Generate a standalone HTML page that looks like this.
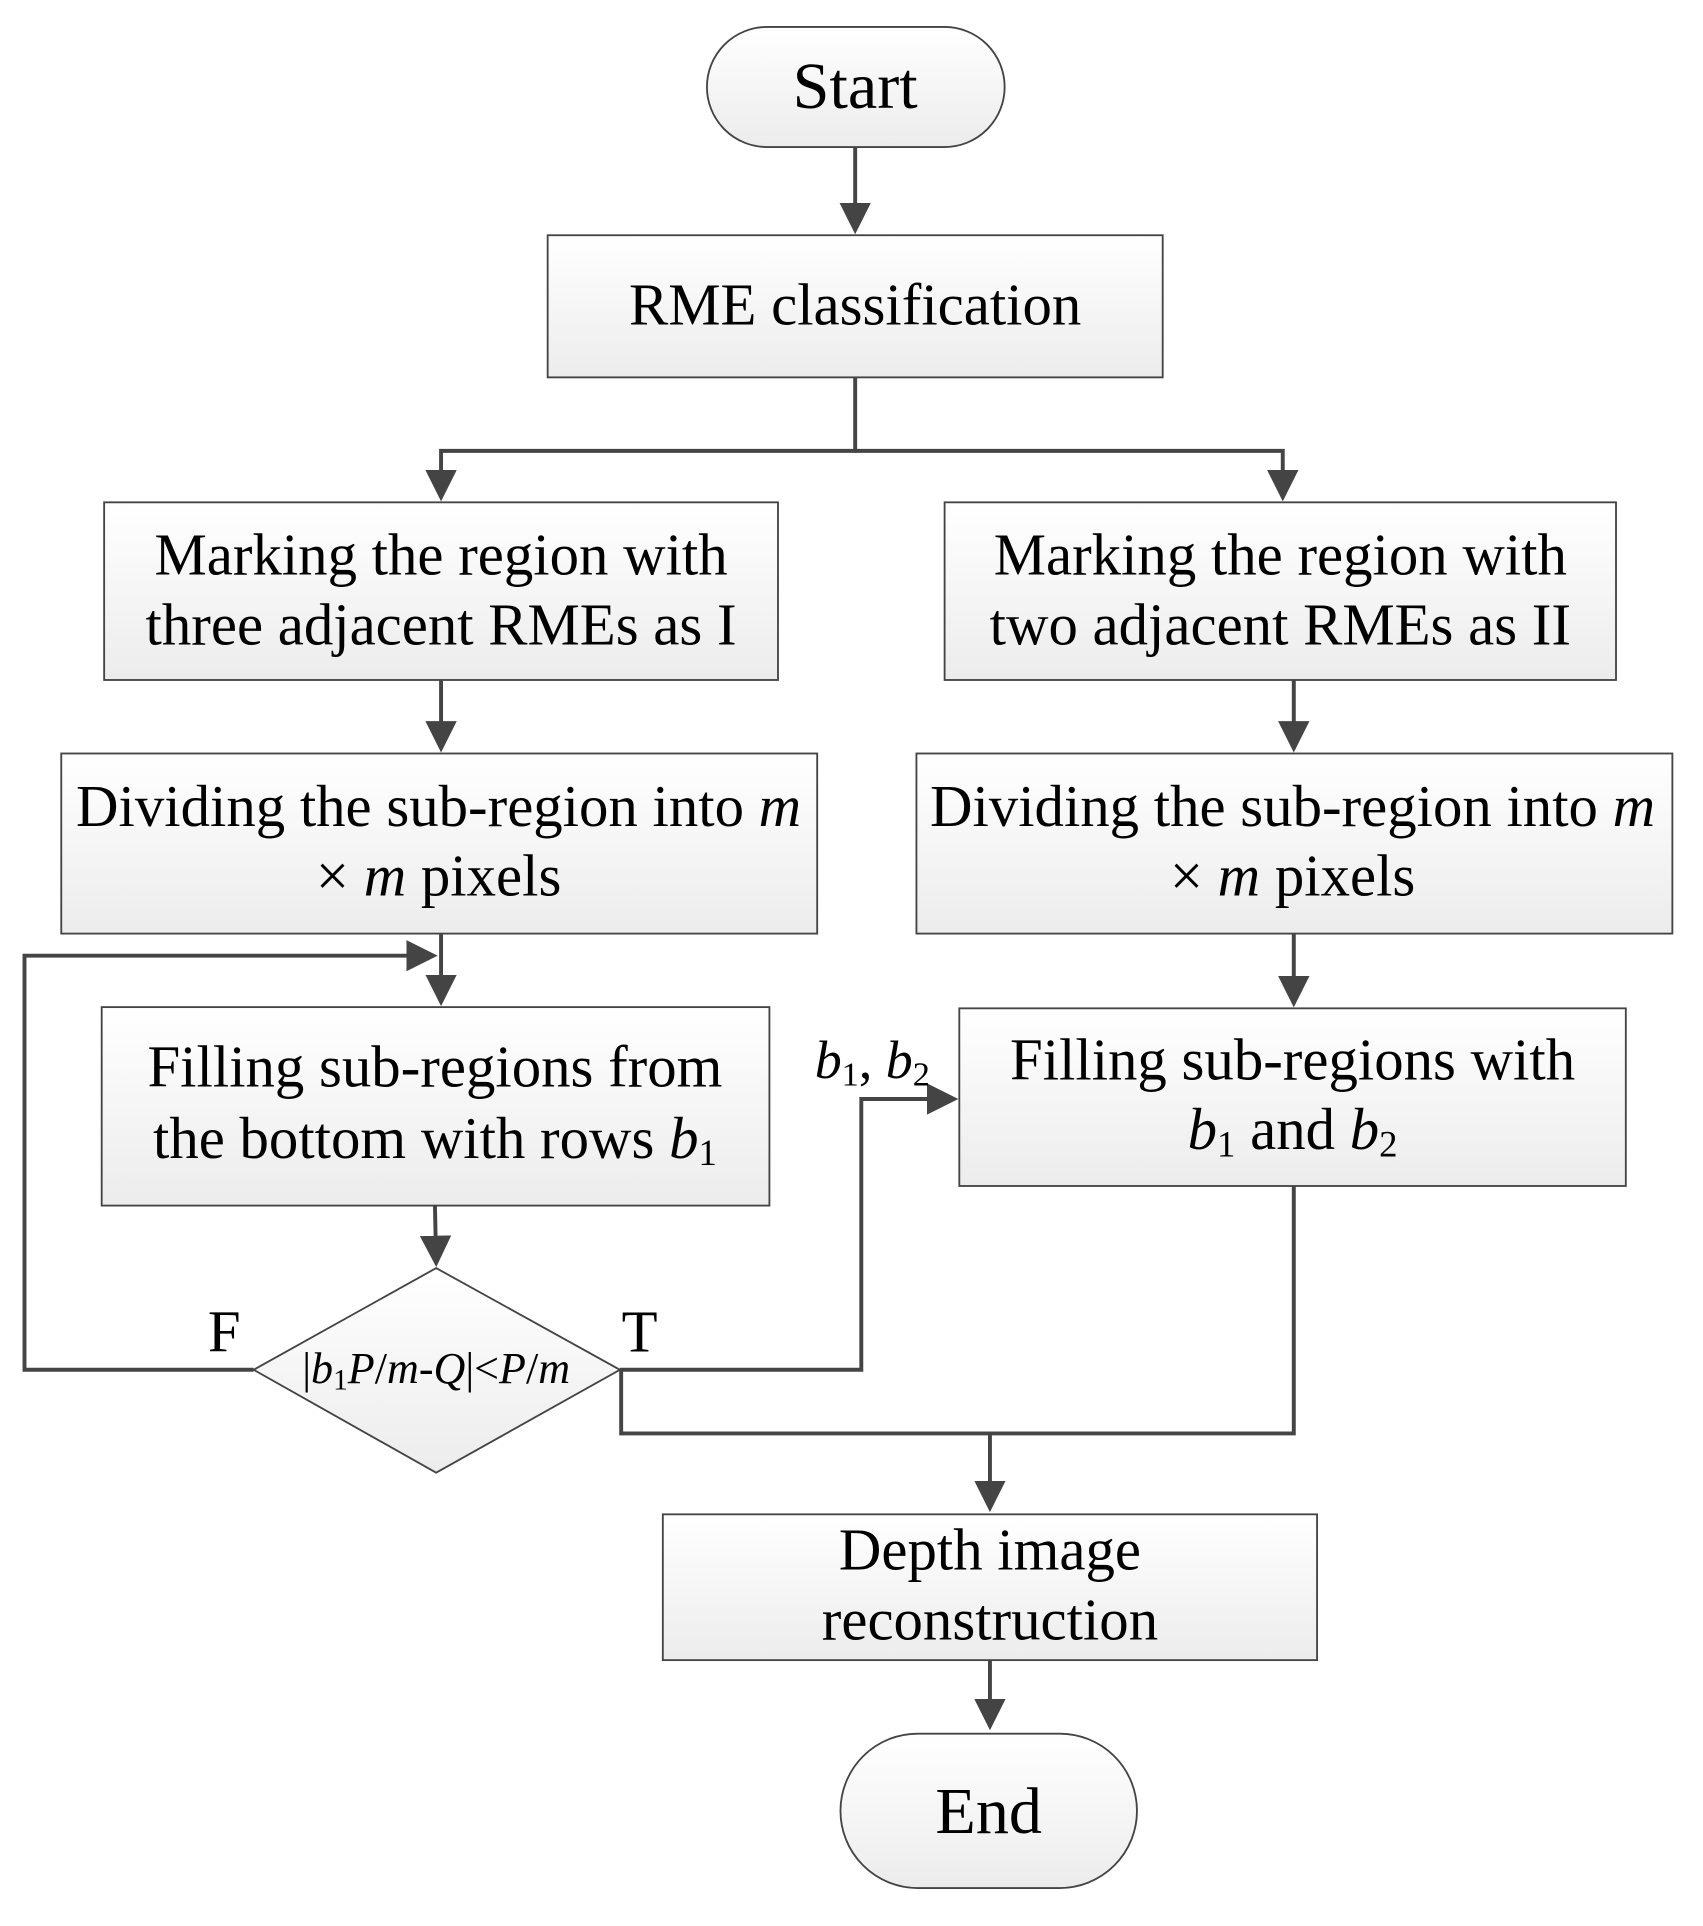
<!DOCTYPE html>
<html><head><meta charset="utf-8"><style>
html,body{margin:0;padding:0;background:#fff;}
svg{display:block;}
text{font-family:"Liberation Serif",serif;fill:#000;}
</style></head><body>
<svg width="1703" height="1926" viewBox="0 0 1390 1572" preserveAspectRatio="none" xmlns="http://www.w3.org/2000/svg">
<defs>
<linearGradient id="g" x1="0" y1="0" x2="0" y2="1"><stop offset="0" stop-color="#ffffff"/><stop offset="1" stop-color="#ececec"/></linearGradient>
<marker id="a" markerWidth="8" markerHeight="8" refX="7" refY="4" orient="auto" markerUnits="strokeWidth"><path d="M0,0 L8,4 L0,8 z" fill="#444"/></marker>
</defs>
<g stroke="#444" stroke-width="1.5" fill="url(#g)">
<rect x="577" y="22" width="243" height="98" rx="49"/>
<rect x="447" y="192" width="502" height="116"/>
<rect x="85" y="410" width="550" height="145"/>
<rect x="771" y="410" width="548" height="145"/>
<rect x="50" y="615" width="617" height="147"/>
<rect x="748" y="615" width="617" height="147"/>
<rect x="83" y="822" width="545" height="162"/>
<rect x="783" y="823" width="544" height="145"/>
<polygon points="207,1118 356,1035 506,1118 356,1202"/>
<rect x="541" y="1236" width="534" height="119"/>
<rect x="686" y="1415" width="242" height="126" rx="63"/>
</g>
<g stroke="#444" stroke-width="3.2" fill="none">
<line x1="698" y1="120" x2="698" y2="188" marker-end="url(#a)"/>
<polyline points="698,308 698,368 360,368 360,406" marker-end="url(#a)"/>
<polyline points="698,368 1047,368 1047,406" marker-end="url(#a)"/>
<line x1="360" y1="555" x2="360" y2="611" marker-end="url(#a)"/>
<line x1="1056" y1="555" x2="1056" y2="611" marker-end="url(#a)"/>
<line x1="360" y1="762" x2="360" y2="818" marker-end="url(#a)"/>
<line x1="1056" y1="762" x2="1056" y2="819" marker-end="url(#a)"/>
<polyline points="207,1118 20,1118 20,780 354,780" marker-end="url(#a)"/>
<line x1="355" y1="984" x2="356" y2="1031" marker-end="url(#a)"/>
<polyline points="506,1118 703,1118 703,897 779,897" marker-end="url(#a)"/>
<polyline points="507,1118 507,1170 1056,1170 1056,968"/>
<line x1="808" y1="1170" x2="808" y2="1231" marker-end="url(#a)"/>
<line x1="808" y1="1355" x2="808" y2="1409" marker-end="url(#a)"/>
</g>
<g font-size="48" text-anchor="middle">
<text x="698" y="88" font-size="54">Start</text>
<text x="698" y="265">RME classification</text>
<text x="360" y="469">Marking the region with</text>
<text x="360" y="526">three adjacent RMEs  as I</text>
<text x="1045" y="469">Marking the region with</text>
<text x="1045" y="526">two adjacent RMEs  as II</text>
<text x="358" y="674">Dividing the sub-region into <tspan font-style="italic">m</tspan></text>
<text x="358" y="731">× <tspan font-style="italic">m</tspan> pixels</text>
<text x="1055" y="674">Dividing the sub-region into <tspan font-style="italic">m</tspan></text>
<text x="1055" y="731">× <tspan font-style="italic">m</tspan> pixels</text>
<text x="355" y="887">Filling sub-regions from</text>
<text x="355" y="945">the bottom with rows <tspan font-style="italic">b</tspan><tspan font-size="30" dy="6">1</tspan></text>
<text x="1055" y="881">Filling sub-regions with</text>
<text x="1055" y="938"><tspan font-style="italic">b</tspan><tspan font-size="30" dy="6">1</tspan><tspan dy="-6"> and </tspan><tspan font-style="italic">b</tspan><tspan font-size="30" dy="6">2</tspan></text>
<text x="808" y="1281">Depth image</text>
<text x="808" y="1338">reconstruction</text>
<text x="807" y="1496" font-size="54">End</text>
<text x="356" y="1129" font-size="36"><tspan>|</tspan><tspan font-style="italic">b</tspan><tspan font-size="24" dy="5">1</tspan><tspan font-style="italic" dy="-5">P</tspan>/<tspan font-style="italic">m</tspan>-<tspan font-style="italic">Q</tspan>|&lt;<tspan font-style="italic">P</tspan>/<tspan font-style="italic">m</tspan></text>
</g>
<text x="183" y="1103" font-size="48" text-anchor="middle">F</text>
<text x="522" y="1103" font-size="48" text-anchor="middle">T</text>
<text x="665" y="880" font-size="44"><tspan font-style="italic">b</tspan><tspan font-size="28" dy="6">1</tspan><tspan dy="-6">, </tspan><tspan font-style="italic">b</tspan><tspan font-size="28" dy="6">2</tspan></text>
</svg>
</body></html>
